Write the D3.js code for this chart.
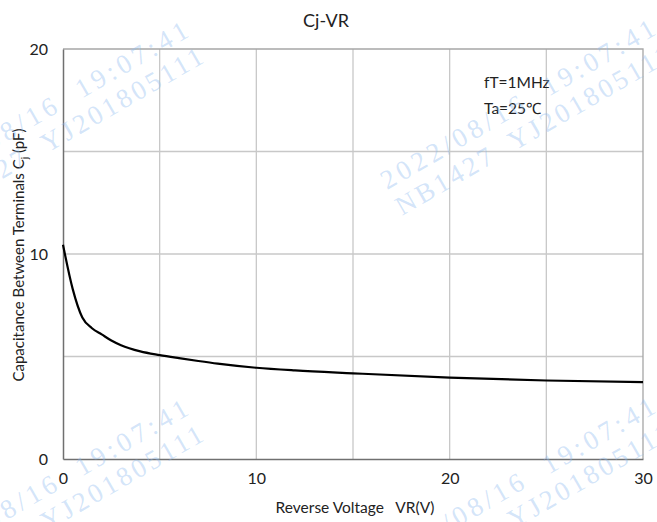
<!DOCTYPE html>
<html><head><meta charset="utf-8">
<script src="https://cdn.jsdelivr.net/npm/d3@7"></script>
<style>body{margin:0;background:#fff}svg{display:block}</style>
</head><body>
<svg id="c" width="657" height="522"></svg>
<script>
const voltage = [0, 0.5, 1, 1.5, 2, 2.5, 3, 4, 5, 6, 7, 8, 10, 12, 15, 20, 25, 30];
const capacitance = [10.45, 8.3, 6.9, 6.38, 6.08, 5.78, 5.55, 5.25, 5.07, 4.92, 4.78, 4.65, 4.45, 4.32, 4.18, 3.97, 3.83, 3.75];
const xTicks = [0, 10, 20, 30];
const xGrid = [0, 5, 10, 15, 20, 25, 30];
const yTicks = [0, 10, 20];
const yGrid = [0, 5, 10, 15, 20];
const title = "Cj-VR";
const notes = ["fT=1MHz", "Ta=25\u2103"];
const watermark = ["2022/08/16  19:07:41", "NB1427  YJ201805111"];

const svg = d3.select("#c");
const m = {l: 63, r: 643, t: 49, b: 459};
const x = d3.scaleLinear().domain([0, 30]).range([m.l, m.r]);
const y = d3.scaleLinear().domain([0, 20]).range([m.b, m.t]);
const font = "Lato, 'Open Sans', sans-serif";

// grid
svg.append("g").selectAll("line").data(yGrid.filter(d => d > 0 && d < 20)).join("line")
  .attr("x1", m.l).attr("x2", m.r).attr("y1", d => y(d)).attr("y2", d => y(d))
  .attr("stroke", "#c8c8c8").attr("stroke-width", 1.3);
svg.append("g").selectAll("line").data(xGrid.filter(d => d > 0 && d < 30)).join("line")
  .attr("x1", d => x(d)).attr("x2", d => x(d)).attr("y1", m.t).attr("y2", m.b)
  .attr("stroke", "#c8c8c8").attr("stroke-width", 1.3);
// top/right border
svg.append("path").attr("d", `M${m.l},${y(20)}H${x(30)}V${m.b}`)
  .attr("fill", "none").attr("stroke", "#a6a6a6").attr("stroke-width", 1.3);

// axes
const xa = svg.append("g").attr("transform", `translate(0,${m.b})`)
  .call(d3.axisBottom(x).tickValues(xTicks).tickSize(0).tickPadding(14));
const ya = svg.append("g").attr("transform", `translate(${m.l},0)`)
  .call(d3.axisLeft(y).tickValues(yTicks).tickSize(0).tickPadding(15));
[xa, ya].forEach(a => {
  a.select(".domain").attr("stroke", "#707070").attr("stroke-width", 1.5);
  a.selectAll("text").attr("font-family", font).attr("font-size", 16).attr("fill", "#222");
});

// curve
const line = d3.line().x((d, i) => x(voltage[i])).y(d => y(d)).curve(d3.curveMonotoneX);
svg.append("path").datum(capacitance).attr("d", line)
  .attr("fill", "none").attr("stroke", "#000").attr("stroke-width", 2.2);

// title
svg.append("text").attr("x", 326).attr("y", 27).attr("text-anchor", "middle")
  .attr("font-family", font).attr("font-size", 18).attr("fill", "#222").text(title);

// axis titles
svg.append("text").attr("x", 355).attr("y", 513).attr("text-anchor", "middle")
  .attr("font-family", font).attr("font-size", 15.5).attr("fill", "#222")
  .attr("xml:space", "preserve").text("Reverse Voltage   VR(V)");
const yt = svg.append("text").attr("transform", "translate(24,255) rotate(-90)")
  .attr("text-anchor", "middle").attr("font-family", font).attr("font-size", 15).attr("fill", "#222");
yt.append("tspan").text("Capacitance Between Terminals C");
yt.append("tspan").attr("font-size", 10).attr("dy", 4).text("j");
yt.append("tspan").attr("dy", -4).text(" (pF)");

// notes
svg.append("g").selectAll("text").data(notes).join("text")
  .attr("x", 484).attr("y", (d, i) => 88 + i * 26)
  .attr("font-family", font).attr("font-size", 15.5).attr("fill", "#222").text(d => d);

// watermarks
const origins = [[-80, 192], [387, 190], [-80, 570], [387, 568]];
const wm = svg.append("g").attr("pointer-events", "none");
origins.forEach(([ox, oy]) => {
  const g = wm.append("g").attr("transform", `translate(${ox},${oy}) rotate(-30)`);
  watermark.forEach((t, i) => {
    g.append("text").attr("x", 0).attr("y", i * 30)
      .attr("font-family", "'Liberation Serif', 'DejaVu Serif', serif").attr("font-size", 27)
      .attr("fill", "#8fbcf0").attr("fill-opacity", 0.4)
      .attr("textLength", 312).attr("lengthAdjust", "spacing")
      .attr("xml:space", "preserve").text(t);
  });
});
</script>
</body></html>
